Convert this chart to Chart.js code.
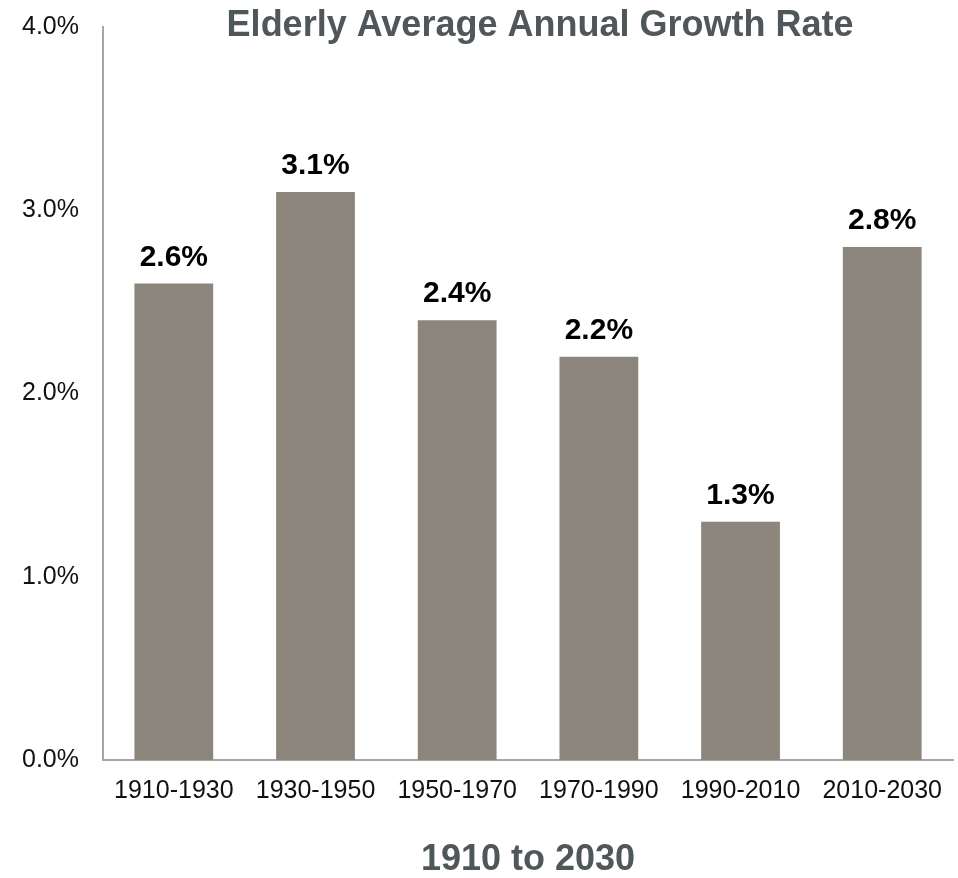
<!DOCTYPE html>
<html>
<head>
<meta charset="utf-8">
<title>Elderly Average Annual Growth Rate</title>
<script src="https://cdn.jsdelivr.net/npm/chart.js@4.4.0/dist/chart.umd.min.js"></script>
<style>
  html, body { margin: 0; padding: 0; background: #ffffff; }
  #wrap { width: 958px; height: 878px; }
</style>
</head>
<body>
<div id="wrap"><canvas id="bar-chart" width="958" height="878"></canvas></div>
<script>
const periods = ["1910-1930", "1930-1950", "1950-1970", "1970-1990", "1990-2010", "2010-2030"];
const growthRates = [2.6, 3.1, 2.4, 2.2, 1.3, 2.8];
const yTicks = [0, 1, 2, 3, 4];

const FONT = "'Liberation Sans', Arial, Helvetica, sans-serif";
const titleText = "Elderly Average Annual Growth Rate";

// title sits inside the plot area, next to the top tick
const titlePlugin = {
  id: 'insideTitle',
  afterDraw(chart) {
    const { ctx, chartArea } = chart;
    ctx.save();
    ctx.font = "bold 36px " + FONT;
    ctx.fillStyle = '#50575b';
    ctx.textAlign = 'center';
    ctx.textBaseline = 'alphabetic';
    ctx.fillText(titleText, (chartArea.left + chartArea.right) / 2 + 12, chartArea.top + 9);
    ctx.restore();
  }
};

// value labels above each bar
const valueLabels = {
  id: 'valueLabels',
  afterDatasetsDraw(chart) {
    const { ctx } = chart;
    const meta = chart.getDatasetMeta(0);
    ctx.save();
    ctx.font = "bold 30px " + FONT;
    ctx.fillStyle = '#000000';
    ctx.textAlign = 'center';
    ctx.textBaseline = 'alphabetic';
    meta.data.forEach((bar, i) => {
      ctx.fillText(growthRates[i].toFixed(1) + '%', bar.x, bar.y - 18);
    });
    ctx.restore();
  }
};

new Chart(document.getElementById("bar-chart"), {
  type: 'bar',
  data: {
    labels: periods,
    datasets: [{
      label: "Growth rate",
      data: growthRates,
      backgroundColor: '#8c857b',
      borderWidth: 0,
      barPercentage: 0.556,
      categoryPercentage: 1.0
    }]
  },
  options: {
    responsive: false,
    animation: false,
    layout: { padding: { left: -2, right: -4, top: 27, bottom: 0 } },
    plugins: {
      legend: { display: false },
      tooltip: { enabled: false },
      title: { display: false }
    },
    scales: {
      x: {
        grid: { display: false, drawTicks: false, tickLength: 0 },
        border: { display: true, color: '#a6a6a6', width: 2 },
        ticks: {
          color: '#111111',
          font: { family: FONT, size: 25 },
          padding: 16,
          maxRotation: 0,
          autoSkip: false
        },
        title: {
          display: true,
          text: '1910 to 2030',
          color: '#50575b',
          font: { family: FONT, size: 36, weight: 'bold', lineHeight: 1 },
          padding: { top: 20, bottom: 0 }
        }
      },
      y: {
        min: yTicks[0],
        max: yTicks[yTicks.length - 1],
        grid: { display: false, drawTicks: false, tickLength: 0 },
        border: { display: true, color: '#a6a6a6', width: 2 },
        afterBuildTicks(scale) {
          scale.ticks = yTicks.map(v => ({ value: v }));
        },
        // the top label may stick out above the plot, like the original
        afterFit(scale) {
          scale.paddingTop = 0;
        },
        ticks: {
          color: '#111111',
          font: { family: FONT, size: 25 },
          padding: 24,
          callback: v => Number(v).toFixed(1) + '%'
        }
      }
    }
  },
  plugins: [titlePlugin, valueLabels]
});
</script>
</body>
</html>
